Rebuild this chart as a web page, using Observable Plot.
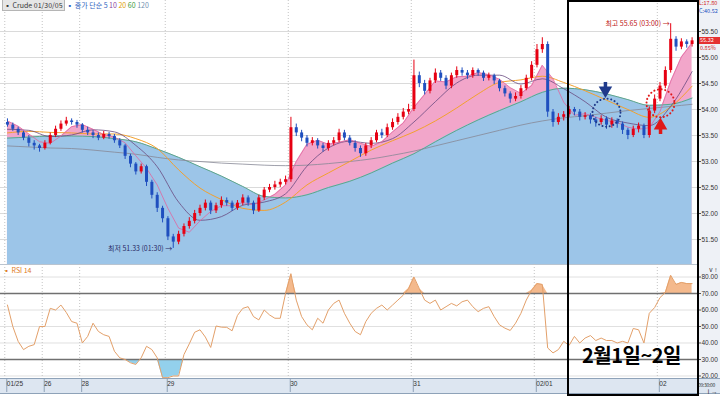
<!DOCTYPE html>
<html><head><meta charset="utf-8">
<script src="https://cdn.jsdelivr.net/npm/d3@7"></script>
<script src="https://cdn.jsdelivr.net/npm/@observablehq/plot@0.6"></script>
<style>
body{margin:0;background:#fff;font-family:"Noto Sans CJK KR","Noto Sans",sans-serif;}
#wrap{position:relative;width:720px;height:396px;overflow:hidden;background:#fff}
.abs{position:absolute;white-space:nowrap}
</style></head><body><div id="wrap">
<div class="abs" style="left:698px;top:0;width:22px;height:378px;background:#eef1f6"></div>
<div class="abs" style="left:0;top:378px;width:720px;height:14px;background:#dde6f1;border-top:1px solid #8ea2b8;border-bottom:1px solid #8ea2b8"></div>
<div class="abs" id="price" style="left:0;top:0"></div>
<div class="abs" style="left:0;top:264px;width:698px;height:1px;background:#b9c4d0"></div>
<div class="abs" id="rsi" style="left:0;top:264px"></div>
<div class="abs" style="left:697px;top:0;width:1px;height:378px;background:#555"></div>
<div class="abs" style="left:2px;top:1px;font-size:7px;line-height:8px"><span style="background:#e6e6e6;border:1px solid #b5b5b5;color:#333;padding:0 1px">▪ Crude 01/30/05</span> <span style="color:#2f5fc0">▪ 종가 단순 5</span> <span style="color:#8a3fa0">10</span> <span style="color:#e0a000">20</span> <span style="color:#3a9a3a">60</span> <span style="color:#7090b0">120</span></div>
<div class="abs" style="left:3px;top:266px;font-size:7px;line-height:8px;color:#e07b22">▪ RSI 14</div>
<div class="abs" style="left:699px;top:0px;font-size:5.5px;line-height:6px;color:#d02020">L:17.80</div>
<div class="abs" style="left:699px;top:8px;font-size:5.5px;line-height:6px;color:#2050c0">C:40.52</div>
<div class="abs" style="left:698px;top:37px;width:22px;height:7px;background:#e53030;color:#fff;font-size:5.5px;line-height:7px;padding-left:2px;box-sizing:border-box">55.32</div>
<div class="abs" style="left:700px;top:45px;font-size:5.5px;line-height:6px;color:#d02020">0.85%</div>
<div class="abs" style="left:698px;top:382px;font-size:5px;line-height:6px;letter-spacing:-0.3px;color:#333">09:30:00</div>
<div class="abs" style="left:567px;top:0;width:132px;height:396px;border:2px solid #000;box-sizing:border-box"></div>
<div class="abs" style="left:582px;top:342px;font-size:20px;font-weight:bold;letter-spacing:-0.5px;color:#000;line-height:26px">2월1일~2일</div>
</div>
<script>
// ---- data ----
const dayStarts = [0, 7, 14, 30, 53, 76, 99, 122];
const dayLabels = ["01/25", "26", "28", "29", "30", "31", "02/01", "02"];
const priceTicks = [51.5, 52.0, 52.5, 53.0, 53.5, 54.0, 54.5, 55.0, 55.5];
const rsiTicks = [20, 30, 40, 50, 60, 70, 80];

const opens = [53.75,53.70,53.62,53.55,53.45,53.35,53.30,53.25,53.35,53.50,
 53.62,53.72,53.78,53.75,53.70,53.60,53.55,53.50,53.45,53.52,
 53.48,53.40,53.30,53.10,52.95,52.80,52.90,52.60,52.35,52.10,
 51.90,51.55,51.45,51.60,51.75,51.85,52.00,52.10,52.20,52.05,
 52.15,52.25,52.20,52.10,52.20,52.30,52.20,52.05,52.30,52.45,
 52.50,52.55,52.60,52.65,53.65,53.55,53.45,53.35,53.40,53.30,
 53.25,53.35,53.40,53.55,53.45,53.35,53.25,53.15,53.30,53.40,
 53.55,53.50,53.65,53.75,53.85,53.95,54.00,54.65,54.50,54.35,
 54.55,54.70,54.60,54.45,54.65,54.75,54.70,54.65,54.75,54.70,
 54.60,54.65,54.55,54.40,54.30,54.20,54.25,54.40,54.60,54.85,
 55.15,55.25,53.95,53.75,53.85,53.90,54.00,53.95,53.85,53.88,
 53.80,53.75,53.82,53.70,53.78,53.72,53.60,53.50,53.62,53.68,
 53.50,53.97,54.20,54.45,54.75,55.35,55.20,55.30,55.25];
const highs = [53.82,53.74,53.66,53.58,53.50,53.40,53.33,53.40,53.55,53.68,
 53.78,53.85,53.82,53.79,53.73,53.66,53.60,53.55,53.58,53.56,
 53.52,53.44,53.33,53.14,52.98,52.95,52.93,52.64,52.40,52.14,
 51.94,51.60,51.66,51.80,51.92,52.06,52.16,52.26,52.24,52.20,
 52.32,52.30,52.24,52.25,52.36,52.34,52.24,52.35,52.50,52.56,
 52.62,52.66,52.72,53.85,53.72,53.60,53.50,53.46,53.44,53.35,
 53.40,53.46,53.62,53.60,53.50,53.40,53.30,53.35,53.46,53.60,
 53.62,53.72,53.82,53.92,54.02,54.10,54.95,54.72,54.56,54.60,
 54.78,54.75,54.65,54.70,54.82,54.80,54.75,54.80,54.78,54.74,
 54.70,54.68,54.58,54.45,54.34,54.32,54.46,54.66,54.92,55.25,
 55.38,55.30,54.00,53.92,53.96,54.06,54.04,54.00,53.94,53.92,
 53.85,53.88,53.86,53.84,53.82,53.76,53.64,53.68,53.74,53.72,
 54.05,54.28,54.52,54.82,55.65,55.40,55.36,55.34,55.38];
const lows = [53.66,53.58,53.50,53.40,53.28,53.22,53.18,53.22,53.32,53.46,
 53.58,53.68,53.70,53.64,53.55,53.50,53.44,53.40,53.42,53.43,
 53.35,53.25,53.04,52.88,52.74,52.76,52.52,52.28,52.02,51.82,
 51.48,51.33,51.40,51.55,51.70,51.80,51.95,52.05,51.98,52.00,
 52.10,52.14,52.04,52.06,52.15,52.14,51.98,52.02,52.25,52.40,
 52.45,52.50,52.55,52.60,53.48,53.38,53.28,53.30,53.24,53.18,
 53.20,53.30,53.36,53.40,53.30,53.18,53.08,53.10,53.25,53.36,
 53.44,53.46,53.60,53.70,53.80,53.90,53.96,54.42,54.28,54.30,
 54.50,54.54,54.38,54.40,54.60,54.64,54.58,54.60,54.64,54.54,
 54.55,54.48,54.34,54.24,54.12,54.15,54.20,54.36,54.55,54.80,
 55.08,53.85,53.66,53.70,53.78,53.85,53.88,53.78,53.80,53.72,
 53.66,53.70,53.62,53.64,53.64,53.52,53.42,53.46,53.55,53.44,
 53.45,53.92,54.15,54.40,54.70,55.12,55.15,55.18,55.20];
const closes = [53.70,53.62,53.55,53.45,53.35,53.30,53.25,53.35,53.50,53.62,
 53.72,53.78,53.75,53.70,53.60,53.55,53.50,53.45,53.52,53.48,
 53.40,53.30,53.10,52.95,52.80,52.90,52.60,52.35,52.10,51.90,
 51.55,51.45,51.60,51.75,51.85,52.00,52.10,52.20,52.05,52.15,
 52.25,52.20,52.10,52.20,52.30,52.20,52.05,52.30,52.45,52.50,
 52.55,52.60,52.65,53.65,53.55,53.45,53.35,53.40,53.30,53.25,
 53.35,53.40,53.55,53.45,53.35,53.25,53.15,53.30,53.40,53.55,
 53.50,53.65,53.75,53.85,53.95,54.00,54.65,54.50,54.35,54.55,
 54.70,54.60,54.45,54.65,54.75,54.70,54.65,54.75,54.70,54.60,
 54.65,54.55,54.40,54.30,54.20,54.25,54.40,54.60,54.85,55.15,
 55.25,53.95,53.75,53.85,53.90,54.00,53.95,53.85,53.88,53.80,
 53.75,53.82,53.70,53.78,53.72,53.60,53.50,53.62,53.68,53.50,
 53.97,54.20,54.45,54.75,55.35,55.20,55.30,55.25,55.32];

// moving averages (ma5 every 2 bars, others every 4 bars)
const ma5 = [53.78,53.68,53.53,53.38,53.35,53.49,53.67,53.71,53.62,53.52,53.47,53.36,53.11,52.87,52.55,52.10,51.72,51.64,51.86,52.04,52.15,52.15,52.21,52.17,52.26,52.37,52.55,53.00,53.33,53.41,53.33,53.37,53.42,53.35,53.29,53.38,53.57,53.74,54.04,54.29,54.55,54.53,54.63,54.64,54.71,54.67,54.58,54.42,54.31,54.46,54.85,54.59,54.14,53.89,53.92,53.85,53.79,53.75,53.66,53.62,53.65,53.96,54.54,55.01,55.28];
const ma10 = [53.62,53.60,53.48,53.51,53.61,53.57,53.31,52.90,52.22,51.87,51.94,52.16,52.22,52.38,52.91,53.26,53.39,53.35,53.44,53.76,54.15,54.51,54.66,54.66,54.49,54.59,54.40,54.15,53.85,53.74,53.69,54.06,54.73];
const ma20 = [53.55,53.58,53.56,53.55,53.53,53.53,53.44,53.25,52.84,52.49,52.27,52.10,52.06,52.22,52.55,52.78,53.00,53.22,53.40,53.57,53.78,54.03,54.30,54.52,54.57,54.64,54.52,54.36,54.18,54.00,53.85,54.05,54.45];
const ma60 = [53.30,53.28,53.26,53.25,53.22,53.18,53.14,53.08,53.03,53.00,52.97,52.95,52.93,52.92,52.93,52.96,53.00,53.05,53.12,53.20,53.30,53.40,53.50,53.60,53.70,53.78,53.84,53.88,53.93,53.98,54.02,54.06,54.10];
const ma120 = [53.45,53.47,53.49,53.49,53.48,53.44,53.38,53.24,53.08,52.90,52.72,52.52,52.33,52.30,52.36,52.50,52.62,52.78,52.97,53.15,53.38,53.60,53.80,53.98,54.15,54.33,54.41,54.38,54.30,54.19,54.08,54.10,54.22];

const rsi = [63,50,41,36,38,39,50,50,61,60,
 63,58.5,53,52,40,44,52,47,45,44,
 35,31,30,28,27,31,38,36,31,19,
 19,20,20,33,39.5,46.5,48,43.6,37.3,50.3,
 49.6,49.5,47.4,56.7,61,62,56,54,60,57,
 55,55,70,82,66,56,51,48,55,52,
 60,64,66,58,52,47,45,53,58,61,
 63,60,63,66,69,73,80,73,66,64,
 66,60,62,64,62.5,65,66,62,59,61,
 62,56,51,49,47.6,52,58,66,72,76,
 75.5,37,34,36,41,38.5,44,40,43,44.5,
 41.5,43,41.5,41.5,40,41,40,48.8,48,40,
 58,61.5,67.5,70.6,81,75.5,76.7,76,76];

// annotation anchors (data units)
const blueMark = {i: 112, v: 53.94};
const redMark = {i: 122.1, v: 54.12};

// ---- build tables ----
const bars = closes.map((c, i) => ({i, o: opens[i], h: highs[i], l: lows[i], c}));
const rows = (arr, step) => arr.map((v, k) => ({i: k * step, v}));
const ma5Rows = rows(ma5, 2), ma10Rows = rows(ma10, 4), ma20Rows = rows(ma20, 4),
      ma60Rows = rows(ma60, 4), cloudRows = rows(ma120, 4);
const rsiRows = rsi.map((v, i) => ({i, v}));

const X_DOMAIN = [-1.3, 129.2];
const Y_MIN = 51.02, Y_MAX = 56.096;
const UP = "#e60012", DOWN = "#1f4fbf";
const candleColor = d => d.c >= d.o ? UP : DOWN;
const lowIdx = d3.minIndex(lows), highIdx = d3.maxIndex(highs);
const fmt2 = d3.format(".2f");
const axisFont = "Liberation Sans, DejaVu Sans, sans-serif";

const price = Plot.plot({
  width: 720, height: 264, marginLeft: 0, marginRight: 22, marginTop: 0, marginBottom: 0,
  style: {background: "transparent", fontFamily: axisFont, overflow: "visible"},
  x: {domain: X_DOMAIN, axis: null},
  y: {domain: [Y_MIN, Y_MAX], axis: null},
  color: {type: "identity"},
  marks: [
    Plot.gridY(priceTicks, {stroke: "#dadada", strokeOpacity: 1}),
    Plot.ruleX(dayStarts, {x: d => d - 0.5, stroke: "#c4c4c4", strokeDasharray: "1,2"}),
    Plot.areaY(ma5Rows, {x: "i", y1: Y_MIN, y2: "v", fill: "#f2a6ca"}),
    Plot.areaY(cloudRows, {x: "i", y1: Y_MIN, y2: "v", fill: "#9cc5e8", curve: "monotone-x"}),
    Plot.lineY(cloudRows, {x: "i", y: "v", stroke: "#5ea58a", strokeWidth: 1, curve: "monotone-x"}),
    Plot.lineY(ma60Rows, {x: "i", y: "v", stroke: "#868896", strokeWidth: 0.8, curve: "monotone-x"}),
    Plot.lineY(ma20Rows, {x: "i", y: "v", stroke: "#f2a12e", strokeWidth: 1, curve: "monotone-x"}),
    Plot.lineY(ma10Rows, {x: "i", y: "v", stroke: "#6a4a80", strokeWidth: 0.8, curve: "monotone-x"}),
    Plot.lineY(ma5Rows, {x: "i", y: "v", stroke: "#e0669f", strokeWidth: 0.8}),
    Plot.ruleX(bars, {x: "i", y1: "l", y2: "h", stroke: candleColor, strokeWidth: 1}),
    Plot.ruleX(bars, {x: "i", y1: "o", y2: "c", stroke: candleColor, strokeWidth: 3}),
    Plot.text([bars[lowIdx]], {x: "i", y: "l", text: d => `최저 ${fmt2(d.l)} (01:30) →`, textAnchor: "end", dx: -1, fontSize: 7, fill: "#2a2a66", fontFamily: "Noto Sans CJK KR"}),
    Plot.text([bars[highIdx]], {x: "i", y: "h", text: d => `최고 ${fmt2(d.h)} (03:00) →`, textAnchor: "end", dx: -1, fontSize: 7, fill: "#c01818", fontFamily: "Noto Sans CJK KR"}),
    Plot.dot([blueMark], {x: "i", y: "v", r: 14, stroke: "#1f3a8a", strokeWidth: 2, strokeDasharray: "0.1,3.6", strokeLinecap: "round", fill: "none"}),
    Plot.dot([redMark], {x: "i", y: "v", r: 14, stroke: "#e01818", strokeWidth: 2, strokeDasharray: "0.1,3.6", strokeLinecap: "round", fill: "none"}),
    Plot.ruleX([{i: 111.8, a: 54.52, b: 54.40}], {x: "i", y1: "a", y2: "b", stroke: "#1f3a8a", strokeWidth: 3.5}),
    Plot.dot([{i: 111.8, v: 54.37}], {x: "i", y: "v", symbol: "triangle", r: 5, fill: "#1f3a8a", rotate: 180}),
    Plot.ruleX([{i: 122.1, a: 53.52, b: 53.66}], {x: "i", y1: "a", y2: "b", stroke: "#e01818", strokeWidth: 3.5}),
    Plot.dot([{i: 122.1, v: 53.69}], {x: "i", y: "v", symbol: "triangle", r: 5, fill: "#e01818"}),
    Plot.axisY(priceTicks, {anchor: "right", tickFormat: fmt2, tickSize: 2, tickPadding: 1, fontSize: 6.5, fill: "#333", stroke: "#555"})
  ]
});
document.getElementById("price").append(price);

const rsiPlot = Plot.plot({
  width: 720, height: 132, marginLeft: 0, marginRight: 22, marginTop: 0, marginBottom: 18,
  style: {background: "transparent", fontFamily: axisFont, overflow: "visible"},
  x: {domain: X_DOMAIN},
  y: {domain: [18.48, 87.58], axis: null},
  marks: [
    Plot.gridY([20, 40, 50, 60, 80], {stroke: "#e0e0e0", strokeOpacity: 1}),
    Plot.ruleX(dayStarts, {x: d => d - 0.5, stroke: "#c4c4c4", strokeDasharray: "1,2"}),
    Plot.areaY(rsiRows, {x: "i", y1: 70, y2: d => Math.max(d.v, 70), fill: "#f4b98c"}),
    Plot.areaY(rsiRows, {x: "i", y1: 30, y2: d => Math.min(d.v, 30), fill: "#93d0ec"}),
    Plot.ruleY([70, 30], {stroke: "#707070", strokeWidth: 1.5}),
    Plot.lineY(rsiRows, {x: "i", y: "v", stroke: "#e3a06a", strokeWidth: 1}),
    Plot.axisY(rsiTicks, {anchor: "right", tickFormat: fmt2, tickSize: 2, tickPadding: 1, fontSize: 6.5, fill: "#333", stroke: "#555"}),
    Plot.axisX(dayStarts.map(d => d - 0.5), {anchor: "bottom", tickSize: 14, tickPadding: -11, textAnchor: "start", dx: 2,
      tickFormat: d => dayLabels[dayStarts.indexOf(d + 0.5)], fontSize: 6.5, fill: "#333", stroke: "#8ea2b8"})
  ]
});
document.getElementById("rsi").append(rsiPlot);
</script>
</body></html>
